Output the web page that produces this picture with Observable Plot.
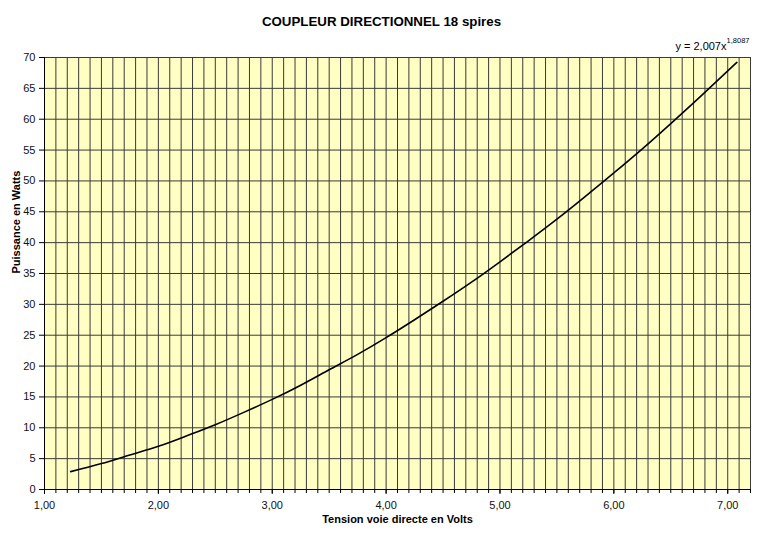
<!DOCTYPE html>
<html>
<head>
<meta charset="utf-8">
<script src="https://cdn.jsdelivr.net/npm/d3@7"></script>
<script src="https://cdn.jsdelivr.net/npm/@observablehq/plot@0.6"></script>
<style>
  html, body { margin: 0; padding: 0; background: #fff; }
</style>
</head>
<body>
<div id="chart"></div>
<script>
// Data (tension in volts, power in watts)
const tension = [1.23, 1.5, 1.75, 2.0, 2.25, 2.5, 2.75, 3.0, 3.25, 3.5, 3.75, 4.0, 4.25, 4.5, 4.75, 5.0, 5.25, 5.5, 5.75, 6.0, 6.25, 6.5, 6.75, 7.08];
const puissance = [2.9, 4.2, 5.6, 7.0, 8.7, 10.5, 12.5, 14.6, 16.9, 19.4, 21.9, 24.6, 27.5, 30.5, 33.6, 36.9, 40.3, 43.8, 47.5, 51.3, 55.2, 59.3, 63.5, 69.2];

const yTicks = [0, 5, 10, 15, 20, 25, 30, 35, 40, 45, 50, 55, 60, 65, 70];
const xTicks = [1, 2, 3, 4, 5, 6, 7];
const xMinorTicks = d3.range(10, 73).map(d => d / 10);

const title = "COUPLEUR DIRECTIONNEL 18 spires";
const equation = "y = 2,007x";
const exponent = "1,8087";
const xLabel = "Tension voie directe en Volts";
const yLabel = "Puissance en Watts";

const data = tension.map((t, i) => ({ t, p: puissance[i] }));
const fmt = d => d.toFixed(2).replace(".", ",");
const gridColor = "#3a3a3a";

const chart = Plot.plot({
  width: 768,
  height: 536,
  marginTop: 57,
  marginBottom: 47,
  marginLeft: 44,
  marginRight: 18,
  x: { domain: [1, 7.2] },
  y: { domain: [0, 70] },
  style: { fontFamily: "'Liberation Sans', Arial, sans-serif", fontSize: "11px", background: "#fff", color: "#000" },
  marks: [
    Plot.frame({ fill: "#ffffc4", stroke: null }),
    Plot.gridX(xMinorTicks, { stroke: gridColor, strokeOpacity: 1, strokeWidth: 1 }),
    Plot.gridY(yTicks, { stroke: gridColor, strokeOpacity: 1, strokeWidth: 1 }),
    Plot.axisX(xMinorTicks, { tickSize: 4, tickFormat: () => "", label: null }),
    Plot.axisX(xTicks, { tickSize: 5, tickPadding: 7, tickFormat: fmt, label: null, fill: "#111" }),
    Plot.axisY(yTicks, { tickSize: 5, tickPadding: 4, label: null, fill: "#111" }),
    Plot.ruleX([1], { stroke: "#000" }),
    Plot.ruleY([0], { stroke: "#000" }),
    Plot.line(data, { x: "t", y: "p", curve: "natural", stroke: "#000", strokeWidth: 1.6 }),
    Plot.text([title], { frameAnchor: "top", dx: -16, dy: -40.5, fontWeight: "bold", fontSize: 13.3, fill: "#000" }),
    Plot.text([equation], { frameAnchor: "top-right", textAnchor: "end", dx: -24, dy: -15.5, fontSize: 11, fill: "#000" }),
    Plot.text([exponent], { frameAnchor: "top-right", textAnchor: "end", dx: -1, dy: -19.5, fontSize: 7.5, fill: "#000" }),
    Plot.text([yLabel], { frameAnchor: "left", rotate: -90, dx: -28, fontWeight: "bold", fontSize: 11, fill: "#000" }),
    Plot.text([xLabel], { frameAnchor: "bottom", dy: 33, dx: 0, fontWeight: "bold", fontSize: 11, fill: "#000" })
  ]
});
document.getElementById("chart").appendChild(chart);
</script>
</body>
</html>
